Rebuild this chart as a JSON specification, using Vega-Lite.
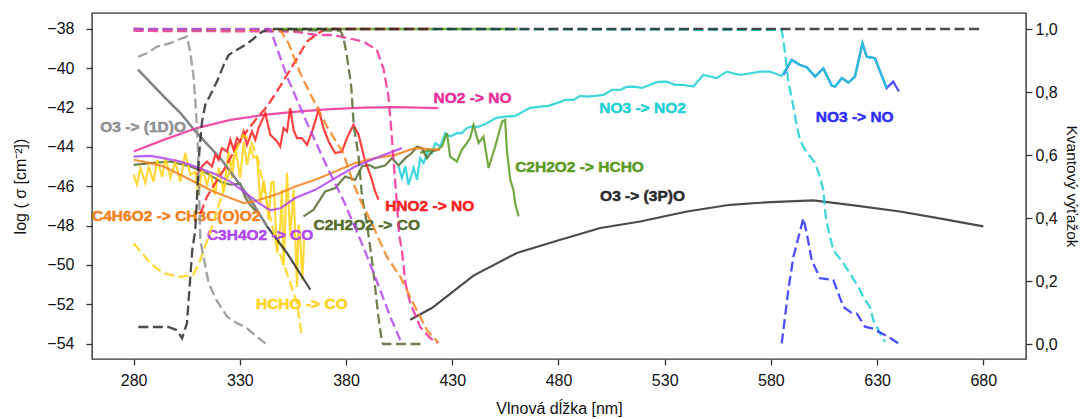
{
  "$schema": "https://vega.github.io/schema/vega-lite/v6.json",
  "width": 934,
  "height": 346,
  "autosize": {"type": "none"},
  "padding": {"left": 92, "top": 13, "right": 56, "bottom": 60},
  "background": "white",
  "config": {
    "font": "Liberation Sans",
    "view": {"stroke": "#333333", "strokeWidth": 1.4},
    "axis": {"domain": false, "grid": false, "ticks": true, "tickSize": 6, "tickWidth": 1.3, "tickColor": "#333333", "labelFontSize": 16, "labelColor": "#111111", "titleFontSize": 16, "titleFontWeight": "normal", "titleColor": "#111111", "labelFont": "Liberation Sans", "titleFont": "Liberation Sans"}
  },
  "datasets": {
    "sig": [
      {"s":"NO3 -> NO","p":"a","x":585.9,"y":-40.34},{"s":"NO3 -> NO","p":"a","x":589.8,"y":-39.57},{"s":"NO3 -> NO","p":"a","x":593.7,"y":-39.83},{"s":"NO3 -> NO","p":"a","x":596.9,"y":-39.95},{"s":"NO3 -> NO","p":"a","x":600.8,"y":-40.42},{"s":"NO3 -> NO","p":"a","x":604.7,"y":-40.0},{"s":"NO3 -> NO","p":"a","x":608.7,"y":-40.89},{"s":"NO3 -> NO","p":"a","x":610.2,"y":-40.93},{"s":"NO3 -> NO","p":"a","x":613.4,"y":-40.5},{"s":"NO3 -> NO","p":"a","x":616.5,"y":-40.73},{"s":"NO3 -> NO","p":"a","x":619.6,"y":-40.42},{"s":"NO3 -> NO","p":"a","x":623.1,"y":-38.73},{"s":"NO3 -> NO","p":"a","x":625.1,"y":-39.41},{"s":"NO3 -> NO","p":"a","x":629.0,"y":-39.49},{"s":"NO3 -> NO","p":"a","x":634.5,"y":-41.01},{"s":"NO3 -> NO","p":"a","x":637.6,"y":-40.68},{"s":"NO3 -> NO","p":"a","x":640.3,"y":-41.18},

      {"s":"NO3 -> NO2","p":"a","x":404.7,"y":-44.99},{"s":"NO3 -> NO2","p":"a","x":406.3,"y":-45.58},{"s":"NO3 -> NO2","p":"a","x":407.9,"y":-44.99},{"s":"NO3 -> NO2","p":"a","x":409.4,"y":-45.92},{"s":"NO3 -> NO2","p":"a","x":411.8,"y":-45.07},{"s":"NO3 -> NO2","p":"a","x":413.4,"y":-45.67},{"s":"NO3 -> NO2","p":"a","x":414.9,"y":-44.57},{"s":"NO3 -> NO2","p":"a","x":416.5,"y":-44.82},{"s":"NO3 -> NO2","p":"a","x":418.8,"y":-44.15},{"s":"NO3 -> NO2","p":"a","x":420.4,"y":-44.31},{"s":"NO3 -> NO2","p":"a","x":422.0,"y":-43.8},{"s":"NO3 -> NO2","p":"a","x":424.3,"y":-43.98},{"s":"NO3 -> NO2","p":"a","x":426.7,"y":-43.3},{"s":"NO3 -> NO2","p":"a","x":429.0,"y":-43.47},{"s":"NO3 -> NO2","p":"a","x":432.2,"y":-43.3},{"s":"NO3 -> NO2","p":"a","x":434.5,"y":-43.3},{"s":"NO3 -> NO2","p":"a","x":436.9,"y":-43.04},{"s":"NO3 -> NO2","p":"a","x":439.2,"y":-42.96},{"s":"NO3 -> NO2","p":"a","x":442.2,"y":-42.98},{"s":"NO3 -> NO2","p":"a","x":446.3,"y":-42.79},{"s":"NO3 -> NO2","p":"a","x":450.7,"y":-42.52},{"s":"NO3 -> NO2","p":"a","x":455.7,"y":-42.45},{"s":"NO3 -> NO2","p":"a","x":459.6,"y":-42.42},{"s":"NO3 -> NO2","p":"a","x":463.4,"y":-42.2},{"s":"NO3 -> NO2","p":"a","x":466.7,"y":-42.01},{"s":"NO3 -> NO2","p":"a","x":471.4,"y":-41.95},{"s":"NO3 -> NO2","p":"a","x":475.2,"y":-41.91},{"s":"NO3 -> NO2","p":"a","x":479.2,"y":-41.77},{"s":"NO3 -> NO2","p":"a","x":483.2,"y":-41.61},{"s":"NO3 -> NO2","p":"a","x":487.1,"y":-41.61},{"s":"NO3 -> NO2","p":"a","x":490.2,"y":-41.4},{"s":"NO3 -> NO2","p":"a","x":493.4,"y":-41.44},{"s":"NO3 -> NO2","p":"a","x":497.3,"y":-41.4},{"s":"NO3 -> NO2","p":"a","x":501.2,"y":-41.35},{"s":"NO3 -> NO2","p":"a","x":505.3,"y":-41.1},{"s":"NO3 -> NO2","p":"a","x":509.1,"y":-41.1},{"s":"NO3 -> NO2","p":"a","x":511.9,"y":-40.95},{"s":"NO3 -> NO2","p":"a","x":515.3,"y":-40.93},{"s":"NO3 -> NO2","p":"a","x":519.4,"y":-41.0},{"s":"NO3 -> NO2","p":"a","x":523.1,"y":-40.84},{"s":"NO3 -> NO2","p":"a","x":526.9,"y":-40.69},{"s":"NO3 -> NO2","p":"a","x":531.0,"y":-40.68},{"s":"NO3 -> NO2","p":"a","x":534.9,"y":-40.84},{"s":"NO3 -> NO2","p":"a","x":538.8,"y":-40.84},{"s":"NO3 -> NO2","p":"a","x":543.5,"y":-40.93},{"s":"NO3 -> NO2","p":"a","x":548.2,"y":-40.34},{"s":"NO3 -> NO2","p":"a","x":554.5,"y":-40.5},{"s":"NO3 -> NO2","p":"a","x":559.2,"y":-40.17},{"s":"NO3 -> NO2","p":"a","x":565.5,"y":-40.34},{"s":"NO3 -> NO2","p":"a","x":574.9,"y":-40.17},{"s":"NO3 -> NO2","p":"a","x":579.6,"y":-40.17},{"s":"NO3 -> NO2","p":"a","x":585.1,"y":-40.39},{"s":"NO3 -> NO2","p":"a","x":589.8,"y":-39.57},{"s":"NO3 -> NO2","p":"a","x":593.7,"y":-39.83},{"s":"NO3 -> NO2","p":"a","x":596.9,"y":-39.95},{"s":"NO3 -> NO2","p":"a","x":600.8,"y":-40.42},{"s":"NO3 -> NO2","p":"a","x":604.7,"y":-40.0},{"s":"NO3 -> NO2","p":"a","x":608.7,"y":-40.89},{"s":"NO3 -> NO2","p":"a","x":610.2,"y":-40.93},{"s":"NO3 -> NO2","p":"a","x":613.4,"y":-40.5},{"s":"NO3 -> NO2","p":"a","x":616.5,"y":-40.73},{"s":"NO3 -> NO2","p":"a","x":619.6,"y":-40.42},{"s":"NO3 -> NO2","p":"a","x":623.1,"y":-38.73},{"s":"NO3 -> NO2","p":"a","x":625.1,"y":-39.41},{"s":"NO3 -> NO2","p":"a","x":629.0,"y":-39.49},{"s":"NO3 -> NO2","p":"a","x":634.5,"y":-41.01},

      {"s":"C2H2O2 -> HCHO","p":"a","x":414.9,"y":-44.3},{"s":"C2H2O2 -> HCHO","p":"a","x":419.6,"y":-44.15},{"s":"C2H2O2 -> HCHO","p":"a","x":422.8,"y":-44.15},{"s":"C2H2O2 -> HCHO","p":"a","x":425.1,"y":-43.98},{"s":"C2H2O2 -> HCHO","p":"a","x":427.5,"y":-43.3},{"s":"C2H2O2 -> HCHO","p":"a","x":429.0,"y":-44.49},{"s":"C2H2O2 -> HCHO","p":"a","x":432.2,"y":-44.74},{"s":"C2H2O2 -> HCHO","p":"a","x":434.5,"y":-44.15},{"s":"C2H2O2 -> HCHO","p":"a","x":436.9,"y":-43.8},{"s":"C2H2O2 -> HCHO","p":"a","x":438.4,"y":-43.55},{"s":"C2H2O2 -> HCHO","p":"a","x":440.0,"y":-42.88},{"s":"C2H2O2 -> HCHO","p":"a","x":442.4,"y":-43.8},{"s":"C2H2O2 -> HCHO","p":"a","x":444.7,"y":-43.47},{"s":"C2H2O2 -> HCHO","p":"a","x":447.1,"y":-45.07},{"s":"C2H2O2 -> HCHO","p":"a","x":450.2,"y":-43.98},{"s":"C2H2O2 -> HCHO","p":"a","x":452.6,"y":-43.04},{"s":"C2H2O2 -> HCHO","p":"a","x":453.5,"y":-42.71},{"s":"C2H2O2 -> HCHO","p":"a","x":454.9,"y":-42.62},{"s":"C2H2O2 -> HCHO","p":"a","x":455.7,"y":-44.15},{"s":"C2H2O2 -> HCHO","p":"a","x":457.3,"y":-45.67},{"s":"C2H2O2 -> HCHO","p":"a","x":458.8,"y":-46.18},{"s":"C2H2O2 -> HCHO","p":"a","x":459.6,"y":-46.85},{"s":"C2H2O2 -> HCHO","p":"a","x":460.4,"y":-47.19},{"s":"C2H2O2 -> HCHO","p":"a","x":461.2,"y":-47.53},

      {"s":"C2H2O2 -> CO","p":"a","x":280.0,"y":-44.91},{"s":"C2H2O2 -> CO","p":"a","x":287.9,"y":-44.82},{"s":"C2H2O2 -> CO","p":"a","x":297.3,"y":-44.74},{"s":"C2H2O2 -> CO","p":"a","x":306.7,"y":-44.99},{"s":"C2H2O2 -> CO","p":"a","x":314.5,"y":-45.33},{"s":"C2H2O2 -> CO","p":"a","x":320.8,"y":-45.76},{"s":"C2H2O2 -> CO","p":"a","x":325.5,"y":-45.92},{"s":"C2H2O2 -> CO","p":"a","x":330.2,"y":-45.87},{"s":"C2H2O2 -> CO","p":"a","x":332.6,"y":-46.58},{"s":"C2H2O2 -> CO","p":"a","x":334.9,"y":-46.94},{"s":"C2H2O2 -> CO","p":"a","x":338.1,"y":-47.34},
      {"s":"C2H2O2 -> CO","p":"b","x":360.0,"y":-47.53},{"s":"C2H2O2 -> CO","p":"b","x":364.7,"y":-47.19},{"s":"C2H2O2 -> CO","p":"b","x":370.2,"y":-46.26},{"s":"C2H2O2 -> CO","p":"b","x":374.9,"y":-46.09},{"s":"C2H2O2 -> CO","p":"b","x":379.6,"y":-45.5},{"s":"C2H2O2 -> CO","p":"b","x":384.3,"y":-45.67},{"s":"C2H2O2 -> CO","p":"b","x":387.5,"y":-44.99},{"s":"C2H2O2 -> CO","p":"b","x":390.6,"y":-44.91},{"s":"C2H2O2 -> CO","p":"b","x":393.7,"y":-45.07},{"s":"C2H2O2 -> CO","p":"b","x":398.4,"y":-44.94},{"s":"C2H2O2 -> CO","p":"b","x":401.6,"y":-44.57},{"s":"C2H2O2 -> CO","p":"b","x":404.7,"y":-44.94},{"s":"C2H2O2 -> CO","p":"b","x":407.9,"y":-44.57},{"s":"C2H2O2 -> CO","p":"b","x":411.0,"y":-44.31},{"s":"C2H2O2 -> CO","p":"b","x":413.4,"y":-43.98},{"s":"C2H2O2 -> CO","p":"b","x":415.7,"y":-44.06},{"s":"C2H2O2 -> CO","p":"b","x":418.1,"y":-44.57},{"s":"C2H2O2 -> CO","p":"b","x":420.4,"y":-44.23},{"s":"C2H2O2 -> CO","p":"b","x":422.8,"y":-44.15},

      {"s":"HCHO -> CO","p":"a","x":280.0,"y":-45.41},{"s":"HCHO -> CO","p":"a","x":281.6,"y":-45.92},{"s":"HCHO -> CO","p":"a","x":283.2,"y":-45.06},{"s":"HCHO -> CO","p":"a","x":285.5,"y":-45.82},{"s":"HCHO -> CO","p":"a","x":287.1,"y":-45.01},{"s":"HCHO -> CO","p":"a","x":289.4,"y":-45.77},{"s":"HCHO -> CO","p":"a","x":291.0,"y":-44.65},{"s":"HCHO -> CO","p":"a","x":293.4,"y":-45.52},{"s":"HCHO -> CO","p":"a","x":294.9,"y":-44.55},{"s":"HCHO -> CO","p":"a","x":297.3,"y":-45.57},{"s":"HCHO -> CO","p":"a","x":299.6,"y":-44.75},{"s":"HCHO -> CO","p":"a","x":302.0,"y":-45.77},{"s":"HCHO -> CO","p":"a","x":304.3,"y":-44.3},{"s":"HCHO -> CO","p":"a","x":306.7,"y":-45.41},{"s":"HCHO -> CO","p":"a","x":309.0,"y":-45.26},{"s":"HCHO -> CO","p":"a","x":310.6,"y":-46.43},{"s":"HCHO -> CO","p":"a","x":312.2,"y":-45.06},{"s":"HCHO -> CO","p":"a","x":314.5,"y":-45.92},{"s":"HCHO -> CO","p":"a","x":316.1,"y":-45.31},{"s":"HCHO -> CO","p":"a","x":318.4,"y":-46.43},{"s":"HCHO -> CO","p":"a","x":320.0,"y":-45.06},{"s":"HCHO -> CO","p":"a","x":322.4,"y":-46.28},{"s":"HCHO -> CO","p":"a","x":324.7,"y":-44.25},{"s":"HCHO -> CO","p":"a","x":326.3,"y":-45.57},{"s":"HCHO -> CO","p":"a","x":327.9,"y":-44.04},{"s":"HCHO -> CO","p":"a","x":330.2,"y":-45.57},{"s":"HCHO -> CO","p":"a","x":331.8,"y":-43.74},{"s":"HCHO -> CO","p":"a","x":333.4,"y":-44.91},{"s":"HCHO -> CO","p":"a","x":334.9,"y":-44.04},{"s":"HCHO -> CO","p":"a","x":336.5,"y":-44.55},{"s":"HCHO -> CO","p":"a","x":338.1,"y":-44.5},{"s":"HCHO -> CO","p":"a","x":339.7,"y":-46.84},{"s":"HCHO -> CO","p":"a","x":341.2,"y":-45.67},{"s":"HCHO -> CO","p":"a","x":342.8,"y":-46.94},{"s":"HCHO -> CO","p":"a","x":343.5,"y":-47.7},{"s":"HCHO -> CO","p":"a","x":344.8,"y":-45.82},{"s":"HCHO -> CO","p":"a","x":345.9,"y":-45.77},{"s":"HCHO -> CO","p":"a","x":347.5,"y":-49.38},{"s":"HCHO -> CO","p":"a","x":349.0,"y":-48.06},{"s":"HCHO -> CO","p":"a","x":349.8,"y":-46.18},{"s":"HCHO -> CO","p":"a","x":350.6,"y":-50.04},{"s":"HCHO -> CO","p":"a","x":352.2,"y":-45.31},{"s":"HCHO -> CO","p":"a","x":353.7,"y":-48.56},{"s":"HCHO -> CO","p":"a","x":355.3,"y":-46.18},{"s":"HCHO -> CO","p":"a","x":356.9,"y":-51.1},{"s":"HCHO -> CO","p":"a","x":357.6,"y":-47.95},{"s":"HCHO -> CO","p":"a","x":358.4,"y":-48.56},{"s":"HCHO -> CO","p":"a","x":359.4,"y":-50.75},{"s":"HCHO -> CO","p":"a","x":360.3,"y":-48.7},

      {"s":"O3 -> (3P)O","p":"a","x":282.1,"y":-40.08},{"s":"O3 -> (3P)O","p":"a","x":293.4,"y":-41.35},{"s":"O3 -> (3P)O","p":"a","x":302.0,"y":-42.27},{"s":"O3 -> (3P)O","p":"a","x":309.0,"y":-43.2},{"s":"O3 -> (3P)O","p":"a","x":320.8,"y":-44.57},{"s":"O3 -> (3P)O","p":"a","x":325.5,"y":-45.25},{"s":"O3 -> (3P)O","p":"a","x":330.2,"y":-45.93},{"s":"O3 -> (3P)O","p":"a","x":336.6,"y":-46.94},{"s":"O3 -> (3P)O","p":"a","x":342.8,"y":-48.04},{"s":"O3 -> (3P)O","p":"a","x":352.2,"y":-49.39},{"s":"O3 -> (3P)O","p":"a","x":363.2,"y":-51.26},
      {"s":"O3 -> (3P)O","p":"b","x":410.2,"y":-52.78},{"s":"O3 -> (3P)O","p":"b","x":420.4,"y":-52.19},{"s":"O3 -> (3P)O","p":"b","x":440.0,"y":-50.54},{"s":"O3 -> (3P)O","p":"b","x":460.4,"y":-49.39},{"s":"O3 -> (3P)O","p":"b","x":480.9,"y":-48.72},{"s":"O3 -> (3P)O","p":"b","x":499.7,"y":-48.12},{"s":"O3 -> (3P)O","p":"b","x":518.5,"y":-47.79},{"s":"O3 -> (3P)O","p":"b","x":540.5,"y":-47.28},{"s":"O3 -> (3P)O","p":"b","x":560.8,"y":-46.94},{"s":"O3 -> (3P)O","p":"b","x":580.0,"y":-46.8},{"s":"O3 -> (3P)O","p":"b","x":600.0,"y":-46.72},{"s":"O3 -> (3P)O","p":"b","x":620.0,"y":-46.98},{"s":"O3 -> (3P)O","p":"b","x":640.8,"y":-47.28},{"s":"O3 -> (3P)O","p":"b","x":660.0,"y":-47.64},{"s":"O3 -> (3P)O","p":"b","x":680.0,"y":-48.04},

      {"s":"O3 -> (1D)O","p":"a","x":282.1,"y":-40.08},{"s":"O3 -> (1D)O","p":"a","x":293.4,"y":-41.35},{"s":"O3 -> (1D)O","p":"a","x":302.0,"y":-42.27},{"s":"O3 -> (1D)O","p":"a","x":309.0,"y":-43.2},{"s":"O3 -> (1D)O","p":"a","x":320.8,"y":-44.57},{"s":"O3 -> (1D)O","p":"a","x":325.5,"y":-45.25},{"s":"O3 -> (1D)O","p":"a","x":330.2,"y":-45.93},{"s":"O3 -> (1D)O","p":"a","x":336.6,"y":-46.94},{"s":"O3 -> (1D)O","p":"a","x":342.8,"y":-48.04},

      {"s":"NO2 -> NO","p":"a","x":280.0,"y":-44.23},{"s":"NO2 -> NO","p":"a","x":294.1,"y":-43.64},{"s":"NO2 -> NO","p":"a","x":309.8,"y":-43.04},{"s":"NO2 -> NO","p":"a","x":325.5,"y":-42.62},{"s":"NO2 -> NO","p":"a","x":341.2,"y":-42.37},{"s":"NO2 -> NO","p":"a","x":356.9,"y":-42.2},{"s":"NO2 -> NO","p":"a","x":372.6,"y":-42.08},{"s":"NO2 -> NO","p":"a","x":388.2,"y":-42.0},{"s":"NO2 -> NO","p":"a","x":404.0,"y":-41.98},{"s":"NO2 -> NO","p":"a","x":423.5,"y":-42.03},

      {"s":"HNO2 -> NO","p":"a","x":309.8,"y":-45.41},{"s":"HNO2 -> NO","p":"a","x":312.2,"y":-44.99},{"s":"HNO2 -> NO","p":"a","x":314.5,"y":-44.74},{"s":"HNO2 -> NO","p":"a","x":316.9,"y":-44.99},{"s":"HNO2 -> NO","p":"a","x":318.4,"y":-44.4},{"s":"HNO2 -> NO","p":"a","x":320.0,"y":-44.65},{"s":"HNO2 -> NO","p":"a","x":321.6,"y":-44.06},{"s":"HNO2 -> NO","p":"a","x":324.0,"y":-44.23},{"s":"HNO2 -> NO","p":"a","x":325.5,"y":-43.64},{"s":"HNO2 -> NO","p":"a","x":327.1,"y":-44.15},{"s":"HNO2 -> NO","p":"a","x":328.7,"y":-43.55},{"s":"HNO2 -> NO","p":"a","x":330.2,"y":-43.72},{"s":"HNO2 -> NO","p":"a","x":331.8,"y":-43.22},{"s":"HNO2 -> NO","p":"a","x":333.4,"y":-43.89},{"s":"HNO2 -> NO","p":"a","x":335.7,"y":-43.22},{"s":"HNO2 -> NO","p":"a","x":337.3,"y":-43.64},{"s":"HNO2 -> NO","p":"a","x":338.8,"y":-43.04},{"s":"HNO2 -> NO","p":"a","x":342.0,"y":-42.28},{"s":"HNO2 -> NO","p":"a","x":344.3,"y":-43.38},{"s":"HNO2 -> NO","p":"a","x":347.5,"y":-43.72},{"s":"HNO2 -> NO","p":"a","x":349.0,"y":-43.98},{"s":"HNO2 -> NO","p":"a","x":350.6,"y":-43.04},{"s":"HNO2 -> NO","p":"a","x":352.2,"y":-43.22},{"s":"HNO2 -> NO","p":"a","x":353.7,"y":-42.03},{"s":"HNO2 -> NO","p":"a","x":355.3,"y":-43.13},{"s":"HNO2 -> NO","p":"a","x":356.9,"y":-43.55},{"s":"HNO2 -> NO","p":"a","x":359.2,"y":-43.55},{"s":"HNO2 -> NO","p":"a","x":361.6,"y":-43.89},{"s":"HNO2 -> NO","p":"a","x":364.0,"y":-43.22},{"s":"HNO2 -> NO","p":"a","x":367.1,"y":-42.11},{"s":"HNO2 -> NO","p":"a","x":369.4,"y":-43.04},{"s":"HNO2 -> NO","p":"a","x":371.8,"y":-43.72},{"s":"HNO2 -> NO","p":"a","x":374.9,"y":-44.31},{"s":"HNO2 -> NO","p":"a","x":378.1,"y":-44.23},{"s":"HNO2 -> NO","p":"a","x":380.4,"y":-43.55},{"s":"HNO2 -> NO","p":"a","x":383.5,"y":-42.88},{"s":"HNO2 -> NO","p":"a","x":385.9,"y":-43.38},{"s":"HNO2 -> NO","p":"a","x":389.0,"y":-44.74},{"s":"HNO2 -> NO","p":"a","x":391.4,"y":-45.41},{"s":"HNO2 -> NO","p":"a","x":393.7,"y":-46.26},{"s":"HNO2 -> NO","p":"a","x":395.3,"y":-46.68},

      {"s":"C4H6O2 -> CH3C(O)O2","p":"a","x":280.0,"y":-44.65},{"s":"C4H6O2 -> CH3C(O)O2","p":"a","x":287.9,"y":-44.82},{"s":"C4H6O2 -> CH3C(O)O2","p":"a","x":294.1,"y":-44.99},{"s":"C4H6O2 -> CH3C(O)O2","p":"a","x":302.0,"y":-45.41},{"s":"C4H6O2 -> CH3C(O)O2","p":"a","x":309.8,"y":-45.84},{"s":"C4H6O2 -> CH3C(O)O2","p":"a","x":317.6,"y":-46.26},{"s":"C4H6O2 -> CH3C(O)O2","p":"a","x":325.5,"y":-46.6},{"s":"C4H6O2 -> CH3C(O)O2","p":"a","x":331.8,"y":-46.85},{"s":"C4H6O2 -> CH3C(O)O2","p":"a","x":336.5,"y":-46.77},{"s":"C4H6O2 -> CH3C(O)O2","p":"a","x":344.3,"y":-46.52},{"s":"C4H6O2 -> CH3C(O)O2","p":"a","x":349.0,"y":-46.34},{"s":"C4H6O2 -> CH3C(O)O2","p":"a","x":356.1,"y":-46.01},{"s":"C4H6O2 -> CH3C(O)O2","p":"a","x":365.5,"y":-45.67},{"s":"C4H6O2 -> CH3C(O)O2","p":"a","x":374.9,"y":-45.25},{"s":"C4H6O2 -> CH3C(O)O2","p":"a","x":384.3,"y":-44.82},{"s":"C4H6O2 -> CH3C(O)O2","p":"a","x":393.7,"y":-44.57},{"s":"C4H6O2 -> CH3C(O)O2","p":"a","x":403.1,"y":-44.4},{"s":"C4H6O2 -> CH3C(O)O2","p":"a","x":412.5,"y":-44.06},{"s":"C4H6O2 -> CH3C(O)O2","p":"a","x":424.3,"y":-44.15},

      {"s":"C3H4O2 -> CO","p":"a","x":280.0,"y":-44.49},{"s":"C3H4O2 -> CO","p":"a","x":287.9,"y":-44.45},{"s":"C3H4O2 -> CO","p":"a","x":294.1,"y":-44.57},{"s":"C3H4O2 -> CO","p":"a","x":302.0,"y":-44.74},{"s":"C3H4O2 -> CO","p":"a","x":306.7,"y":-44.91},{"s":"C3H4O2 -> CO","p":"a","x":312.9,"y":-45.16},{"s":"C3H4O2 -> CO","p":"a","x":319.2,"y":-45.41},{"s":"C3H4O2 -> CO","p":"a","x":325.5,"y":-45.76},{"s":"C3H4O2 -> CO","p":"a","x":331.8,"y":-46.26},{"s":"C3H4O2 -> CO","p":"a","x":338.1,"y":-46.79},{"s":"C3H4O2 -> CO","p":"a","x":344.3,"y":-47.22},{"s":"C3H4O2 -> CO","p":"a","x":349.0,"y":-47.12},{"s":"C3H4O2 -> CO","p":"a","x":356.1,"y":-46.6},{"s":"C3H4O2 -> CO","p":"a","x":365.5,"y":-46.18},{"s":"C3H4O2 -> CO","p":"a","x":374.9,"y":-45.58},{"s":"C3H4O2 -> CO","p":"a","x":384.3,"y":-44.99},{"s":"C3H4O2 -> CO","p":"a","x":393.7,"y":-44.57},{"s":"C3H4O2 -> CO","p":"a","x":406.3,"y":-44.06}
    ],
    "phi": [
      {"s":"C2H2O2 -> HCHO","x":350.0,"q":1.0},{"s":"C2H2O2 -> HCHO","x":461.0,"q":1.0},

      {"s":"NO3 -> NO2","x":400.0,"q":1.0},{"s":"NO3 -> NO2","x":585.1,"q":0.997},{"s":"NO3 -> NO2","x":586.7,"q":0.924},{"s":"NO3 -> NO2","x":588.1,"q":0.838},{"s":"NO3 -> NO2","x":590.0,"q":0.775},{"s":"NO3 -> NO2","x":592.3,"q":0.689},{"s":"NO3 -> NO2","x":593.7,"q":0.648},{"s":"NO3 -> NO2","x":596.1,"q":0.616},{"s":"NO3 -> NO2","x":600.8,"q":0.575},{"s":"NO3 -> NO2","x":603.1,"q":0.53},{"s":"NO3 -> NO2","x":604.7,"q":0.489},{"s":"NO3 -> NO2","x":605.5,"q":0.425},{"s":"NO3 -> NO2","x":606.3,"q":0.384},{"s":"NO3 -> NO2","x":609.4,"q":0.298},{"s":"NO3 -> NO2","x":614.1,"q":0.257},{"s":"NO3 -> NO2","x":621.2,"q":0.181},{"s":"NO3 -> NO2","x":623.5,"q":0.149},{"s":"NO3 -> NO2","x":626.7,"q":0.117},{"s":"NO3 -> NO2","x":628.2,"q":0.076},{"s":"NO3 -> NO2","x":631.4,"q":0.035},{"s":"NO3 -> NO2","x":633.7,"q":0.007},

      {"s":"NO3 -> NO","x":585.1,"q":0.002},{"s":"NO3 -> NO","x":588.2,"q":0.171},{"s":"NO3 -> NO","x":590.6,"q":0.277},{"s":"NO3 -> NO","x":595.3,"q":0.399},{"s":"NO3 -> NO","x":596.9,"q":0.351},{"s":"NO3 -> NO","x":599.2,"q":0.267},{"s":"NO3 -> NO","x":603.1,"q":0.209},{"s":"NO3 -> NO","x":609.4,"q":0.203},{"s":"NO3 -> NO","x":614.1,"q":0.118},{"s":"NO3 -> NO","x":618.0,"q":0.099},{"s":"NO3 -> NO","x":620.4,"q":0.097},{"s":"NO3 -> NO","x":624.3,"q":0.055},{"s":"NO3 -> NO","x":627.5,"q":0.05},{"s":"NO3 -> NO","x":635.3,"q":0.023},{"s":"NO3 -> NO","x":640.0,"q":0.002},

      {"s":"NO2 -> NO","x":280.0,"q":0.994},{"s":"NO2 -> NO","x":355.2,"q":0.992},{"s":"NO2 -> NO","x":366.3,"q":0.981},{"s":"NO2 -> NO","x":374.0,"q":0.981},{"s":"NO2 -> NO","x":388.2,"q":0.96},{"s":"NO2 -> NO","x":394.5,"q":0.933},{"s":"NO2 -> NO","x":397.6,"q":0.875},{"s":"NO2 -> NO","x":399.9,"q":0.79},{"s":"NO2 -> NO","x":401.3,"q":0.679},{"s":"NO2 -> NO","x":402.7,"q":0.552},{"s":"NO2 -> NO","x":404.0,"q":0.441},{"s":"NO2 -> NO","x":405.0,"q":0.346},{"s":"NO2 -> NO","x":406.3,"q":0.298},{"s":"NO2 -> NO","x":407.9,"q":0.194},{"s":"NO2 -> NO","x":410.2,"q":0.13},{"s":"NO2 -> NO","x":414.9,"q":0.054},{"s":"NO2 -> NO","x":419.6,"q":0.019},{"s":"NO2 -> NO","x":423.3,"q":0.003},

      {"s":"HNO2 -> NO","x":311.4,"q":0.413},{"s":"HNO2 -> NO","x":314.5,"q":0.467},{"s":"HNO2 -> NO","x":318.4,"q":0.511},{"s":"HNO2 -> NO","x":322.4,"q":0.552},{"s":"HNO2 -> NO","x":330.2,"q":0.648},{"s":"HNO2 -> NO","x":337.3,"q":0.711},{"s":"HNO2 -> NO","x":342.8,"q":0.754},{"s":"HNO2 -> NO","x":347.5,"q":0.802},{"s":"HNO2 -> NO","x":352.2,"q":0.854},{"s":"HNO2 -> NO","x":356.9,"q":0.907},{"s":"HNO2 -> NO","x":361.6,"q":0.96},{"s":"HNO2 -> NO","x":365.5,"q":0.98},{"s":"HNO2 -> NO","x":370.2,"q":1.0},{"s":"HNO2 -> NO","x":420.0,"q":1.0},

      {"s":"C2H2O2 -> CO","x":280.0,"q":1.0},{"s":"C2H2O2 -> CO","x":377.3,"q":0.995},{"s":"C2H2O2 -> CO","x":378.6,"q":0.976},{"s":"C2H2O2 -> CO","x":380.1,"q":0.928},{"s":"C2H2O2 -> CO","x":381.7,"q":0.854},{"s":"C2H2O2 -> CO","x":382.5,"q":0.812},{"s":"C2H2O2 -> CO","x":383.6,"q":0.695},{"s":"C2H2O2 -> CO","x":385.9,"q":0.595},{"s":"C2H2O2 -> CO","x":387.5,"q":0.468},{"s":"C2H2O2 -> CO","x":389.8,"q":0.384},{"s":"C2H2O2 -> CO","x":392.8,"q":0.235},{"s":"C2H2O2 -> CO","x":395.2,"q":0.087},{"s":"C2H2O2 -> CO","x":396.9,"q":0.007},{"s":"C2H2O2 -> CO","x":397.5,"q":0.0},{"s":"C2H2O2 -> CO","x":416.3,"q":0.0},

      {"s":"C4H6O2 -> CH3C(O)O2","x":280.0,"q":1.0},{"s":"C4H6O2 -> CH3C(O)O2","x":349.0,"q":0.997},{"s":"C4H6O2 -> CH3C(O)O2","x":352.9,"q":0.955},{"s":"C4H6O2 -> CH3C(O)O2","x":358.4,"q":0.86},{"s":"C4H6O2 -> CH3C(O)O2","x":364.6,"q":0.775},{"s":"C4H6O2 -> CH3C(O)O2","x":371.0,"q":0.69},{"s":"C4H6O2 -> CH3C(O)O2","x":378.7,"q":0.606},{"s":"C4H6O2 -> CH3C(O)O2","x":383.4,"q":0.511},{"s":"C4H6O2 -> CH3C(O)O2","x":386.7,"q":0.457},{"s":"C4H6O2 -> CH3C(O)O2","x":392.8,"q":0.373},{"s":"C4H6O2 -> CH3C(O)O2","x":399.2,"q":0.277},{"s":"C4H6O2 -> CH3C(O)O2","x":405.5,"q":0.214},{"s":"C4H6O2 -> CH3C(O)O2","x":411.6,"q":0.13},{"s":"C4H6O2 -> CH3C(O)O2","x":418.1,"q":0.044},{"s":"C4H6O2 -> CH3C(O)O2","x":423.4,"q":0.004},

      {"s":"HCHO -> CO","x":280.0,"q":0.32},{"s":"HCHO -> CO","x":287.9,"q":0.256},{"s":"HCHO -> CO","x":294.0,"q":0.225},{"s":"HCHO -> CO","x":302.0,"q":0.213},{"s":"HCHO -> CO","x":308.0,"q":0.219},{"s":"HCHO -> CO","x":311.4,"q":0.267},{"s":"HCHO -> CO","x":314.7,"q":0.33},{"s":"HCHO -> CO","x":317.5,"q":0.384},{"s":"HCHO -> CO","x":320.8,"q":0.457},{"s":"HCHO -> CO","x":324.6,"q":0.537},{"s":"HCHO -> CO","x":328.3,"q":0.616},{"s":"HCHO -> CO","x":331.6,"q":0.663},{"s":"HCHO -> CO","x":334.9,"q":0.648},{"s":"HCHO -> CO","x":338.7,"q":0.584},{"s":"HCHO -> CO","x":342.4,"q":0.457},{"s":"HCHO -> CO","x":347.5,"q":0.309},{"s":"HCHO -> CO","x":352.2,"q":0.225},{"s":"HCHO -> CO","x":356.9,"q":0.13},{"s":"HCHO -> CO","x":359.2,"q":0.023},

      {"s":"O3 -> (1D)O","x":282.1,"q":0.912},{"s":"O3 -> (1D)O","x":286.3,"q":0.923},{"s":"O3 -> (1D)O","x":291.0,"q":0.944},{"s":"O3 -> (1D)O","x":297.3,"q":0.955},{"s":"O3 -> (1D)O","x":300.4,"q":0.965},{"s":"O3 -> (1D)O","x":305.1,"q":0.976},{"s":"O3 -> (1D)O","x":306.7,"q":0.924},{"s":"O3 -> (1D)O","x":308.2,"q":0.849},{"s":"O3 -> (1D)O","x":309.0,"q":0.775},{"s":"O3 -> (1D)O","x":309.8,"q":0.69},{"s":"O3 -> (1D)O","x":310.4,"q":0.595},{"s":"O3 -> (1D)O","x":310.9,"q":0.457},{"s":"O3 -> (1D)O","x":311.4,"q":0.33},{"s":"O3 -> (1D)O","x":312.9,"q":0.276},{"s":"O3 -> (1D)O","x":315.3,"q":0.194},{"s":"O3 -> (1D)O","x":318.9,"q":0.14},{"s":"O3 -> (1D)O","x":324.0,"q":0.087},{"s":"O3 -> (1D)O","x":328.7,"q":0.066},{"s":"O3 -> (1D)O","x":332.6,"q":0.054},{"s":"O3 -> (1D)O","x":338.1,"q":0.023},{"s":"O3 -> (1D)O","x":342.0,"q":0.002},

      {"s":"O3 -> (3P)O","x":282.2,"q":0.054},{"s":"O3 -> (3P)O","x":296.3,"q":0.054},{"s":"O3 -> (3P)O","x":300.4,"q":0.044},{"s":"O3 -> (3P)O","x":302.8,"q":0.018},{"s":"O3 -> (3P)O","x":305.1,"q":0.066},{"s":"O3 -> (3P)O","x":306.7,"q":0.214},{"s":"O3 -> (3P)O","x":307.6,"q":0.298},{"s":"O3 -> (3P)O","x":309.0,"q":0.362},{"s":"O3 -> (3P)O","x":309.8,"q":0.457},{"s":"O3 -> (3P)O","x":310.6,"q":0.579},{"s":"O3 -> (3P)O","x":311.4,"q":0.648},{"s":"O3 -> (3P)O","x":312.2,"q":0.706},{"s":"O3 -> (3P)O","x":313.7,"q":0.759},{"s":"O3 -> (3P)O","x":316.9,"q":0.801},{"s":"O3 -> (3P)O","x":319.2,"q":0.833},{"s":"O3 -> (3P)O","x":320.8,"q":0.859},{"s":"O3 -> (3P)O","x":322.4,"q":0.886},{"s":"O3 -> (3P)O","x":324.7,"q":0.917},{"s":"O3 -> (3P)O","x":327.1,"q":0.928},{"s":"O3 -> (3P)O","x":332.6,"q":0.949},{"s":"O3 -> (3P)O","x":335.7,"q":0.965},{"s":"O3 -> (3P)O","x":340.4,"q":0.991},{"s":"O3 -> (3P)O","x":343.5,"q":1.0},{"s":"O3 -> (3P)O","x":680.0,"q":1.0},

      {"s":"C3H4O2 -> CO","x":280.0,"q":1.0},{"s":"C3H4O2 -> CO","x":344.3,"q":1.0},{"s":"C3H4O2 -> CO","x":352.2,"q":0.849},{"s":"C3H4O2 -> CO","x":361.6,"q":0.702},{"s":"C3H4O2 -> CO","x":371.0,"q":0.563},{"s":"C3H4O2 -> CO","x":378.7,"q":0.457},{"s":"C3H4O2 -> CO","x":388.1,"q":0.309},{"s":"C3H4O2 -> CO","x":396.1,"q":0.171},{"s":"C3H4O2 -> CO","x":400.8,"q":0.087},{"s":"C3H4O2 -> CO","x":405.5,"q":0.013},{"s":"C3H4O2 -> CO","x":406.9,"q":0.0}
    ],
    "lab": [
      {"s":"O3 -> (1D)O","x":264.3,"y":-43.0},
      {"s":"NO2 -> NO","x":421.2,"y":-41.52},
      {"s":"NO3 -> NO2","x":499.2,"y":-42.03},
      {"s":"NO3 -> NO","x":601.1,"y":-42.49},
      {"s":"C2H2O2 -> HCHO","x":459.6,"y":-45.03},
      {"s":"O3 -> (3P)O","x":499.6,"y":-46.48},
      {"s":"HNO2 -> NO","x":398.4,"y":-47.02},
      {"s":"C4H6O2 -> CH3C(O)O2","x":260.4,"y":-47.53},
      {"s":"C2H2O2 -> CO","x":364.7,"y":-47.95},
      {"s":"C3H4O2 -> CO","x":314.5,"y":-48.46},
      {"s":"HCHO -> CO","x":337.6,"y":-51.99}
    ]
  },
  "layer": [
    {
      "layer": [
        {
          "data": {"name": "sig"},
          "mark": {"type": "line", "strokeWidth": 2.2, "opacity": 0.85},
          "encoding": {
            "x": {"field": "x", "type": "quantitative", "scale": {"domain": [260.4, 700.1], "nice": false, "zero": false},
                  "axis": {"values": [280, 330, 380, 430, 480, 530, 580, 630, 680], "format": "d", "title": "Vlnová dĺžka [nm]", "labelPadding": 7, "titlePadding": 12}},
            "y": {"field": "y", "type": "quantitative", "scale": {"domain": [-54.78, -37.19], "nice": false, "zero": false},
                  "axis": {"orient": "left", "values": [-54, -52, -50, -48, -46, -44, -42, -40, -38], "format": "d", "title": "log ( σ [cm⁻²])", "labelPadding": 12, "titlePadding": 18}},
            "color": {"field": "s", "type": "nominal", "legend": null,
                      "scale": {"domain": ["NO3 -> NO", "NO3 -> NO2", "C2H2O2 -> HCHO", "C2H2O2 -> CO", "HCHO -> CO", "O3 -> (3P)O", "O3 -> (1D)O", "NO2 -> NO", "HNO2 -> NO", "C4H6O2 -> CH3C(O)O2", "C3H4O2 -> CO"],
                                "range": ["#2f2fff", "#1fd0d6", "#5b9a22", "#556b2f", "#ffd21a", "#2b2b2b", "#909090", "#ee2f98", "#ff2020", "#f5821f", "#b048f0"]}},
            "detail": {"field": "p"}
          }
        },
        {
          "data": {"name": "lab"},
          "mark": {"type": "text", "align": "left", "baseline": "middle", "fontSize": 15.5, "fontWeight": "bold", "font": "Liberation Sans", "strokeWidth": 0.5},
          "encoding": {
            "x": {"field": "x", "type": "quantitative"},
            "y": {"field": "y", "type": "quantitative"},
            "text": {"field": "s"},
            "color": {"field": "s", "type": "nominal", "legend": null},
            "stroke": {"field": "s", "type": "nominal", "legend": null,
                       "scale": {"domain": ["NO3 -> NO", "NO3 -> NO2", "C2H2O2 -> HCHO", "C2H2O2 -> CO", "HCHO -> CO", "O3 -> (3P)O", "O3 -> (1D)O", "NO2 -> NO", "HNO2 -> NO", "C4H6O2 -> CH3C(O)O2", "C3H4O2 -> CO"],
                                 "range": ["#2f2fff", "#1fd0d6", "#5b9a22", "#556b2f", "#ffd21a", "#2b2b2b", "#909090", "#ee2f98", "#ff2020", "#f5821f", "#b048f0"]}}
          }
        }
      ]
    },
    {
      "data": {"name": "phi"},
      "mark": {"type": "line", "strokeWidth": 2.3, "strokeDash": [10, 4.5], "opacity": 0.85},
      "encoding": {
        "x": {"field": "x", "type": "quantitative"},
        "y": {"field": "q", "type": "quantitative", "scale": {"domain": [-0.0476, 1.0508], "nice": false, "zero": false},
              "axis": {"orient": "right", "values": [0, 0.2, 0.4, 0.6, 0.8, 1.0], "labelExpr": "replace(format(datum.value, '.1f'), '.', ',')", "title": "Kvantový výťažok", "labelPadding": 3, "titlePadding": 6, "titleFontSize": 15.5}},
        "color": {"field": "s", "type": "nominal", "legend": null}
      }
    }
  ],
  "resolve": {"scale": {"y": "independent"}}
}
